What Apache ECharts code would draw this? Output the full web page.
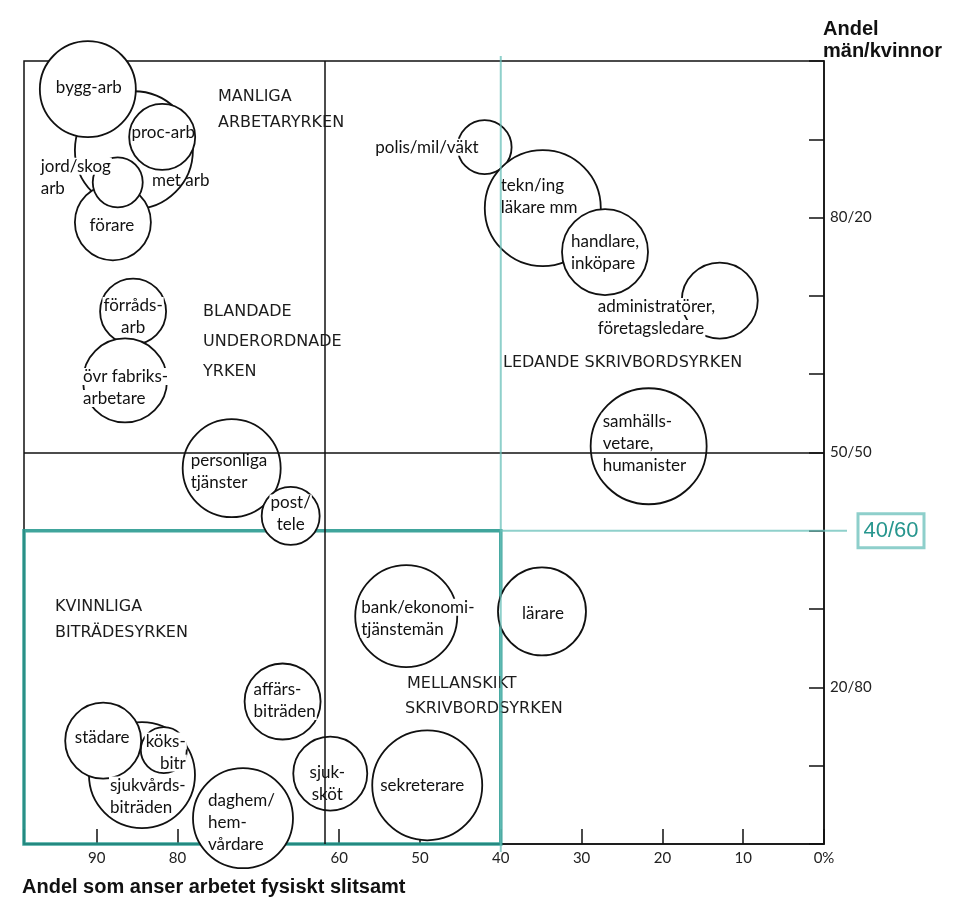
<!DOCTYPE html>
<html><head><meta charset="utf-8">
<script src="https://cdn.jsdelivr.net/npm/echarts@6/dist/echarts.min.js"></script>
<style>html,body{margin:0;padding:0;background:#fff}#c{width:965px;height:910px}</style>
</head><body><div id="c"></div>
<script>
// ---- data (drawing order: later bubbles lie on top) ----
const occupations = ['met arb','förare','jord/skog\narb','proc-arb','bygg-arb','förråds-\narb','övr fabriks-\narbetare','personliga\ntjänster','post/\ntele','sjukvårds-\nbiträden','köks-\nbitr','städare','affärs-\nbiträden','daghem/\nhem-\nvårdare','sjuk-\nsköt','sekreterare','bank/ekonomi-\ntjänstemän','lärare','polis/mil/väkt','tekn/ing\nläkare mm','handlare,\ninköpare','administratörer,\nföretagsledare','samhälls-\nvetare,\nhumanister'];
const physicalShare = [85.4, 88.0, 87.4, 81.9, 91.1, 85.5, 86.5, 73.3, 66.0, 84.4, 81.7, 89.2, 67.0, 71.9, 61.1, 49.1, 51.7, 34.9, 42.0, 34.8, 27.1, 12.9, 21.7];
const menShare      = [88.6, 79.4, 84.5, 90.3, 96.4, 68.0, 59.2, 48.0, 41.9, 8.8, 12.0, 13.2, 18.2, 3.3, 9.0, 7.5, 29.1, 29.7, 89.0, 81.2, 75.6, 69.4, 50.8];
const bubbleSize    = [59, 38, 25, 33, 48, 33, 42, 49, 29, 53, 23, 38, 38, 50, 37, 55, 51, 44, 27, 58, 43, 38, 58];
const yTickLabels = {80: '80/20', 50: '50/50', 20: '20/80'};
const dividerX = [61.8];
const dividerY = [50];
const highlightX = [99, 40];
const highlightY = [0, 40];
const highlightLabel = '40/60';
const regionLabels = [
  ['MANLIGA', 218, 97], ['ARBETARYRKEN', 218, 123],
  ['BLANDADE', 203, 312], ['UNDERORDNADE', 203, 342], ['YRKEN', 203, 372],
  ['LEDANDE SKRIVBORDSYRKEN', 503, 363],
  ['KVINNLIGA', 55, 607], ['BITRÄDESYRKEN', 55, 633],
  ['MELLANSKIKT', 407, 684], ['SKRIVBORDSYRKEN', 405, 709]
];

// ---- label layout (style only) ----
const labelLayout = [
  ['left', 18, 30, false], ['center', -1, 3, false], ['left', -78, -5, true], ['center', 1, -4, false],
  ['center', 1, -2, false], ['center', 0, 5, true], ['left', -43, 7, true], ['left', -42, 3, true],
  ['center', 0, -2, true], ['left', -33, 21, true], ['right', 23, 2, true], ['center', -1, -3, false],
  ['left', -30, -1, true], ['left', -35, 4, false], ['center', -3, 10, false], ['center', -5, 0, false],
  ['left', -46, 2, true], ['center', 1, 2, false], ['right', -5, 0, true], ['left', -43, -12, true],
  ['left', -35, 0, true], ['left', -123, 17, true], ['left', -47, -3, true]
];

const FONT = 'Lato';
const richText = occupations.map((t, i) => t.split('\n').map(l => '{' + (labelLayout[i][3] ? 'w' : 'n') + '|' + l + '}').join('\n'));

const chart = echarts.init(document.getElementById('c'), null, {renderer: 'canvas'});
const option = {
  animation: false,
  backgroundColor: '#fff',
  grid: {left: 24, right: 141, top: 61, bottom: 66, show: true, borderColor: '#111', borderWidth: 1.5, backgroundColor: 'transparent'},
  xAxis: {
    type: 'value', min: 0, max: 99, interval: 10, inverse: true,
    axisLine: {show: true, lineStyle: {color: '#111', width: 1.5}},
    axisTick: {show: true, inside: true, length: 15, lineStyle: {color: '#111', width: 1.5}},
    axisLabel: {margin: 7, fontFamily: FONT, fontSize: 15, color: '#222',
      formatter: v => v === 0 ? '0%' : (v % 10 === 0 ? String(v) : '')},
    splitLine: {show: false}
  },
  yAxis: {
    type: 'value', min: 0, max: 100, interval: 10, position: 'right',
    axisLine: {show: true, lineStyle: {color: '#111', width: 1.5}},
    axisTick: {show: true, inside: true, length: 15, lineStyle: {color: '#111', width: 1.5}},
    axisLabel: {margin: 6, fontFamily: FONT, fontSize: 15, color: '#222', formatter: v => yTickLabels[v] || ''},
    splitLine: {show: false}
  },
  series: [
    {
      type: 'scatter', data: [], z: 1, silent: true,
      markLine: {silent: true, symbol: 'none', animation: false, label: {show: false},
        lineStyle: {color: '#111', width: 1.5, type: 'solid'},
        data: dividerX.map(v => ({xAxis: v})).concat(dividerY.map(v => ({yAxis: v})))}
    },
    {
      type: 'scatter', z: 2, clip: false,
      data: occupations.map((n, i) => ({
        name: n, value: [physicalShare[i], menShare[i], bubbleSize[i]],
        label: {align: labelLayout[i][0], offset: [labelLayout[i][1], labelLayout[i][2]]}
      })),
      symbol: 'circle',
      symbolSize: v => 2 * v[2],
      itemStyle: {color: '#fff', borderColor: '#111', borderWidth: 1.8, opacity: 1},
      label: {
        show: true, position: 'inside', color: '#111', fontFamily: FONT, fontSize: 17, lineHeight: 22,
        formatter: p => richText[p.dataIndex],
        rich: {
          w: {backgroundColor: '#fff', color: '#111', fontFamily: FONT, fontSize: 17, lineHeight: 22, padding: [0, 1]},
          n: {color: '#111', fontFamily: FONT, fontSize: 17, lineHeight: 22}
        }
      },
      emphasis: {disabled: true}
    },
    {
      type: 'scatter', data: [], z: 10, silent: true, clip: false,
      markArea: {silent: true,
        itemStyle: {color: 'rgba(0,0,0,0)', borderColor: 'rgba(38,152,142,0.88)', borderWidth: 3.5},
        data: [[{coord: [highlightX[0], highlightY[1]]}, {coord: [highlightX[1], highlightY[0]]}]]}
    }
  ]
};
chart.setOption(option);

const pTop = chart.convertToPixel({gridIndex: 0}, [highlightX[1], 100]);
const pBot = chart.convertToPixel({gridIndex: 0}, [highlightX[1], 0]);
const pH = chart.convertToPixel({gridIndex: 0}, [0, highlightY[1]]);
const thin = 'rgba(105,192,186,0.75)';
const graphics = [
  {type: 'line', z: 100, silent: true, shape: {x1: pTop[0], y1: pTop[1] - 5, x2: pBot[0], y2: pBot[1] + 8}, style: {stroke: thin, lineWidth: 2}},
  {type: 'line', z: 100, silent: true, shape: {x1: pTop[0], y1: pH[1], x2: pH[0] + 23, y2: pH[1]}, style: {stroke: thin, lineWidth: 2}},
  {type: 'rect', z: 100, silent: true, shape: {x: pH[0] + 34, y: pH[1] - 17, width: 66, height: 34}, style: {fill: '#fff', stroke: '#8ecfcb', lineWidth: 3}},
  {type: 'text', z: 101, silent: true, x: pH[0] + 67, y: pH[1], style: {text: highlightLabel, fill: '#27968e', font: '22px "Liberation Sans", Arial, sans-serif', textAlign: 'center', textVerticalAlign: 'middle', verticalAlign: 'middle'}},
  {type: 'text', z: 101, silent: true, x: 22, y: 887, style: {text: 'Andel som anser arbetet fysiskt slitsamt', fill: '#111', font: 'bold 20px "Liberation Sans", Arial, sans-serif', textVerticalAlign: 'middle', verticalAlign: 'middle'}},
  {type: 'text', z: 101, silent: true, x: 823, y: 29, style: {text: 'Andel', fill: '#111', font: 'bold 20px "Liberation Sans", Arial, sans-serif', textVerticalAlign: 'middle', verticalAlign: 'middle'}},
  {type: 'text', z: 101, silent: true, x: 823, y: 51, style: {text: 'män/kvinnor', fill: '#111', font: 'bold 20px "Liberation Sans", Arial, sans-serif', textVerticalAlign: 'middle', verticalAlign: 'middle'}}
].concat(regionLabels.map(r => ({
  type: 'text', z: 5, silent: true, x: r[1], y: r[2],
  style: {text: r[0], fill: '#1c1c1c', font: '16px "DejaVu Sans", sans-serif', textVerticalAlign: 'middle', verticalAlign: 'middle'}
})));
chart.setOption({graphic: graphics});
</script>
</body></html>
